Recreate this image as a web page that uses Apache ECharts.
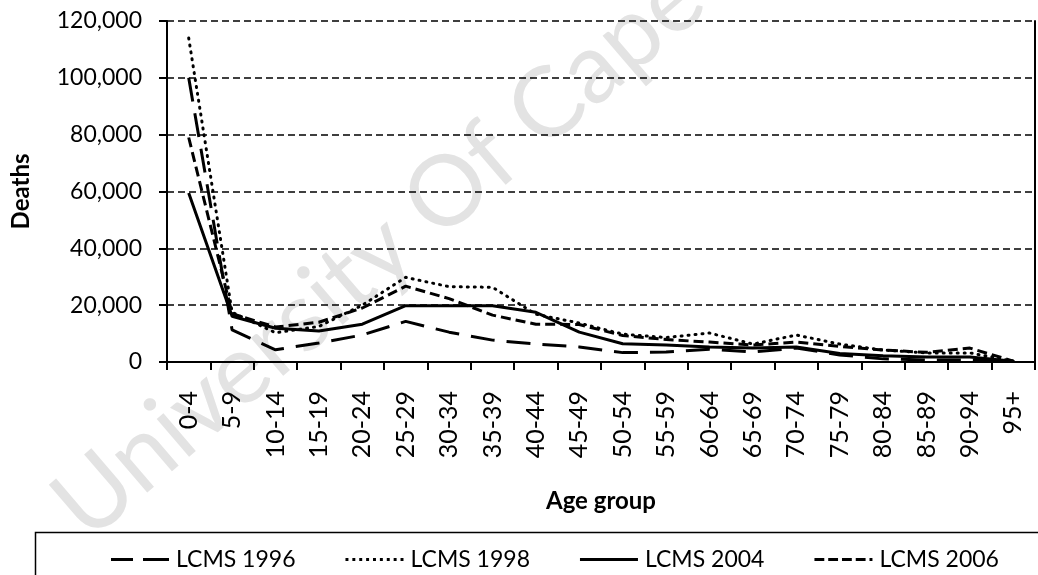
<!DOCTYPE html>
<html>
<head>
<meta charset="utf-8">
<script src="https://cdn.jsdelivr.net/npm/echarts@6/dist/echarts.min.js"></script>
<style>
html,body{margin:0;padding:0;background:#fff;}
#chart{width:1038px;height:575px;}
</style>
</head>
<body>
<div id="chart"></div>
<script>
const categories = ['0-4','5-9','10-14','15-19','20-24','25-29','30-34','35-39','40-44','45-49','50-54','55-59','60-64','65-69','70-74','75-79','80-84','85-89','90-94','95+'];
const lcms1996 = [100000, 11300, 4300, 6700, 9500, 14300, 10500, 7700, 6300, 5300, 3300, 3500, 4500, 3500, 4900, 2500, 1100, 700, 700, 200];
const lcms1998 = [114000, 17500, 10300, 12500, 20000, 29800, 26500, 26300, 16800, 13700, 9800, 8600, 10200, 6300, 9500, 6300, 4200, 3200, 3200, 300];
const lcms2004 = [59500, 16100, 11900, 10900, 13300, 19800, 19800, 19800, 17500, 10500, 6400, 6000, 5300, 4900, 5300, 3000, 2200, 1800, 1800, 300];
const lcms2006 = [79000, 17000, 12300, 14000, 19000, 26700, 22300, 16500, 13300, 13200, 9300, 7900, 7000, 6000, 7000, 5500, 4200, 3400, 4900, 300];
const yTicks = [0, 20000, 40000, 60000, 80000, 100000, 120000];
const seriesNames = ['LCMS 1996', 'LCMS 1998', 'LCMS 2004', 'LCMS 2006'];

const FONT = 'Lato, "Open Sans", sans-serif';
const chart = echarts.init(document.getElementById('chart'), null, {renderer:'canvas'});

// legend icon shapes (line-style swatches)
const iconLongDash = 'path://M0,0h22v3h-22z M32,0h26v3h-26z';
let dots = '';
for (let i = 0; i < 9; i++) dots += 'M' + (i * 7) + ',0h3v3h-3z ';
const iconDots = 'path://' + dots.trim();
const iconSolid = 'path://M0,0h58v3h-58z';
const iconShortDash = 'path://M0,0h10v3h-10z M14,0h10v3h-10z M28,0h10v3h-10z M42,0h10v3h-10z M56,0h3v3h-3z';
const icons = [iconLongDash, iconDots, iconSolid, iconShortDash];

function mk(name, data, type, cap) {
  return {
    name: name, type: 'line', data: data, symbol: 'none', smooth: false,
    lineStyle: {color: '#000', width: 3, type: type, cap: cap || 'butt'},
    itemStyle: {color: '#000'}, z: 3
  };
}

chart.setOption({
  animation: false,
  backgroundColor: '#fff',
  textStyle: {fontFamily: FONT},
  grid: {left: 167, right: 3, top: 21, bottom: 213, containLabel: false},
  graphic: [
    {type: 'text', x: 36, y: 482, rotation: 0.71, z: 0, silent: true,
     style: {text: 'University Of Cape Town', font: '400 98px ' + FONT, fill: '#e3e3e3'}},
    {type: 'rect', left: 33, top: 530, z: 1, silent: true,
     shape: {width: 1030, height: 70}, style: {fill: 'none', stroke: '#000', lineWidth: 1.5}}
  ],
  legend: {
    left: 106, top: 543, itemWidth: 58, itemHeight: 3, itemGap: 50,
    textStyle: {fontFamily: FONT, fontSize: 23, color: '#000', padding: [0, 0, 0, 2]},
    data: seriesNames.map((n, i) => ({name: n, icon: icons[i], itemStyle: {color: '#000', borderWidth: 0}}))
  },
  xAxis: {
    type: 'category', data: categories, boundaryGap: true,
    name: 'Age group', nameLocation: 'middle', nameGap: 127,
    nameTextStyle: {fontFamily: FONT, fontSize: 24, fontWeight: 'bold', color: '#000'},
    axisLine: {lineStyle: {color: '#000', width: 2}},
    axisTick: {show: true, length: 8, lineStyle: {color: '#000', width: 2}},
    axisLabel: {rotate: 90, margin: 29, fontSize: 25, color: '#000', fontFamily: FONT, interval: 0}
  },
  yAxis: [{
    type: 'value', min: 0, max: 120000, interval: 20000,
    name: 'Deaths', nameLocation: 'middle', nameGap: 134, nameRotate: 90,
    nameTextStyle: {fontFamily: FONT, fontSize: 24, fontWeight: 'bold', color: '#000'},
    axisLine: {show: true, lineStyle: {color: '#000', width: 2}},
    axisTick: {show: true, length: 8, lineStyle: {color: '#000', width: 2}},
    axisLabel: {margin: 25, fontSize: 23, color: '#000', fontFamily: FONT,
      formatter: v => yTicks.includes(v) ? v.toLocaleString('en-US') : ''},
    splitLine: {show: true, lineStyle: {color: '#000', width: 1.5, type: [7, 4]}}
  }, {
    type: 'value', min: 0, max: 120000, interval: 20000, position: 'right',
    axisLine: {show: true, lineStyle: {color: '#000', width: 2}},
    axisTick: {show: false}, axisLabel: {show: false}, splitLine: {show: false}
  }],
  series: [
    mk(seriesNames[0], lcms1996, [24, 12]),
    mk(seriesNames[1], lcms1998, [1, 6], 'round'),
    mk(seriesNames[2], lcms2004, 'solid'),
    mk(seriesNames[3], lcms2006, [10, 5])
  ]
});
</script>
</body>
</html>
